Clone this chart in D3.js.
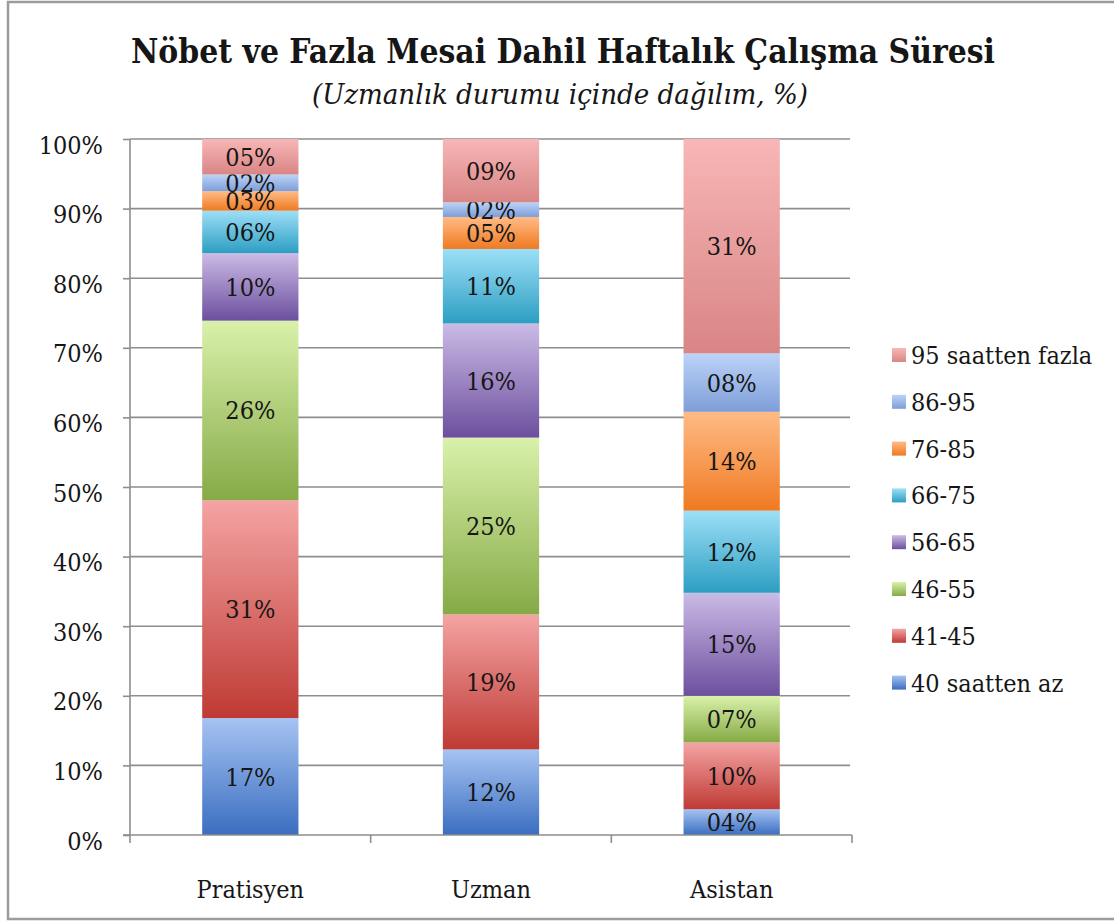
<!DOCTYPE html>
<html>
<head>
<meta charset="utf-8">
<script src="https://cdn.jsdelivr.net/npm/d3@7"></script>
<style>
  body { margin: 0; background: #fff; }
  text { font-family: "DejaVu Serif Condensed", "DejaVu Serif", serif; font-stretch: condensed; fill: #161616; }
</style>
</head>
<body>
<div class="container"></div>
<script>
const width = 1114;
const height = 922;

// data (percent within each group)
const categories = ['Pratisyen', 'Uzman', 'Asistan'];
const series = ['40 saatten az', '41-45', '46-55', '56-65', '66-75', '76-85', '86-95', '95 saatten fazla'];
const pratisyen = [16.8, 31.3, 25.8, 9.7, 6.1, 2.8, 2.4, 5.1];
const uzman = [12.3, 19.4, 25.4, 16.4, 10.7, 4.6, 2.1, 9.1];
const asistan = [3.7, 9.6, 6.7, 14.8, 11.8, 14.2, 8.4, 30.8];
const yTicks = [0, 10, 20, 30, 40, 50, 60, 70, 80, 90, 100];

// gradient colours, top -> bottom, one pair per series
const topColors = ['#a6c3f2', '#f4a4a4', '#d9f1aa', '#cbbbe6', '#9ddff7', '#ffbb86', '#bcd3f8', '#f8b6b6'];
const bottomColors = ['#3a6ec0', '#bf3a34', '#86aa46', '#6c4f9e', '#2c9ec2', '#ef7a22', '#7e9ed8', '#d98585'];

const fontFamily = '"DejaVu Serif Condensed", "DejaVu Serif", serif';
const fontSize = 25;

const groups = [pratisyen, uzman, asistan];
const rows = categories.map((c, i) => {
    const row = { cat: c };
    series.forEach((s, j) => { row[s] = groups[i][j]; });
    return row;
});

const svg = d3.select('.container')
    .append('svg')
    .attr('width', width)
    .attr('height', height);

const defs = svg.append('defs');
series.forEach((s, i) => {
    const g = defs.append('linearGradient')
        .attr('id', 'grad' + i)
        .attr('x1', 0).attr('y1', 0).attr('x2', 0).attr('y2', 1);
    g.append('stop').attr('offset', '0%').attr('stop-color', topColors[i]);
    g.append('stop').attr('offset', '100%').attr('stop-color', bottomColors[i]);
});

// outer frame
svg.append('rect')
    .attr('x', 8).attr('y', 2)
    .attr('width', 1120).attr('height', 917)
    .attr('fill', 'none')
    .attr('stroke', '#9c9c9c')
    .attr('stroke-width', 2.5);

// titles
svg.append('text')
    .attr('x', 563).attr('y', 63)
    .attr('text-anchor', 'middle')
    .attr('font-size', 33)
    .attr('font-weight', 'bold')
    .attr('textLength', 864)
    .attr('lengthAdjust', 'spacingAndGlyphs')
    .text('Nöbet ve Fazla Mesai Dahil Haftalık Çalışma Süresi');

svg.append('text')
    .attr('x', 560).attr('y', 104)
    .attr('text-anchor', 'middle')
    .attr('font-size', 27)
    .attr('font-style', 'italic')
    .attr('textLength', 496)
    .attr('lengthAdjust', 'spacingAndGlyphs')
    .text('(Uzmanlık durumu içinde dağılım, %)');

const plotLeft = 130, plotRight = 852, plotTop = 139, plotBottom = 835;

const scaleX = d3.scaleBand()
    .domain(categories)
    .range([plotLeft, plotRight]);

const scaleY = d3.scaleLinear()
    .domain([0, 100])
    .range([plotBottom, plotTop]);

// gridlines
svg.append('g')
    .selectAll('line')
    .data(yTicks.filter(t => t > 0))
    .enter()
    .append('line')
    .attr('x1', plotLeft).attr('x2', 850)
    .attr('y1', d => scaleY(d)).attr('y2', d => scaleY(d))
    .attr('stroke', '#8e8e8e')
    .attr('stroke-width', 1.6);

// bars
const stack = d3.stack().keys(series);
const layers = stack(rows);
const barW = scaleX.bandwidth() * 0.4;

const layerG = svg.append('g')
    .selectAll('g')
    .data(layers)
    .enter()
    .append('g')
    .attr('fill', (d, i) => 'url(#grad' + i + ')');

layerG.selectAll('rect')
    .data(d => d)
    .enter()
    .append('rect')
    .attr('x', d => scaleX(d.data.cat) + scaleX.bandwidth() / 2 - barW / 2)
    .attr('y', d => scaleY(d[1]))
    .attr('width', barW)
    .attr('height', d => scaleY(d[0]) - scaleY(d[1]));

const fmt = d3.format('02d');
layerG.selectAll('text')
    .data(d => d)
    .enter()
    .append('text')
    .attr('x', d => scaleX(d.data.cat) + scaleX.bandwidth() / 2)
    .attr('y', d => (scaleY(d[0]) + scaleY(d[1])) / 2)
    .attr('dy', '0.36em')
    .attr('text-anchor', 'middle')
    .attr('font-size', fontSize)
    .text(d => fmt(Math.round(d[1] - d[0])) + '%');

// y axis
const y_axis = d3.axisLeft()
    .scale(scaleY)
    .tickValues(yTicks)
    .tickSize(7)
    .tickPadding(20)
    .tickFormat(d => d + '%');

const yg = svg.append('g')
    .attr('transform', 'translate(' + plotLeft + ', 0)')
    .call(y_axis);
yg.selectAll('path, line').attr('stroke', '#8e8e8e').attr('stroke-width', 1.6);
yg.select('.domain').attr('d', 'M0,' + plotTop + 'V' + plotBottom);
yg.selectAll('text')
    .attr('font-family', fontFamily)
    .attr('font-size', fontSize)
    .attr('fill', '#161616')
    .attr('dy', '0.56em');

// x axis
const x_axis = d3.axisBottom()
    .scale(scaleX)
    .tickSize(0)
    .tickPadding(45);

const xg = svg.append('g')
    .attr('transform', 'translate(0, ' + plotBottom + ')')
    .call(x_axis);
xg.select('.domain').attr('d', 'M' + (plotLeft - 7) + ',0H' + plotRight).attr('stroke', '#8e8e8e').attr('stroke-width', 1.6);
xg.selectAll('text')
    .attr('font-family', fontFamily)
    .attr('font-size', fontSize)
    .attr('fill', '#161616');

// tick marks between categories
const edges = categories.map(c => scaleX(c)).concat([plotRight]);
xg.selectAll('.edge')
    .data(edges)
    .enter()
    .append('line')
    .attr('class', 'edge')
    .attr('x1', d => d).attr('x2', d => d)
    .attr('y1', 0).attr('y2', 8)
    .attr('stroke', '#8e8e8e')
    .attr('stroke-width', 1.6);

// legend
const legend = svg.append('g')
    .selectAll('g')
    .data(series.slice().reverse())
    .enter()
    .append('g')
    .attr('transform', (d, i) => 'translate(892, ' + (355 + i * 46.8) + ')');

legend.append('rect')
    .attr('x', 0).attr('y', -7)
    .attr('width', 14).attr('height', 14)
    .attr('fill', d => 'url(#grad' + series.indexOf(d) + ')');

legend.append('text')
    .attr('x', 19)
    .attr('dy', '0.36em')
    .attr('font-size', fontSize)
    .text(d => d);
</script>
</body>
</html>
